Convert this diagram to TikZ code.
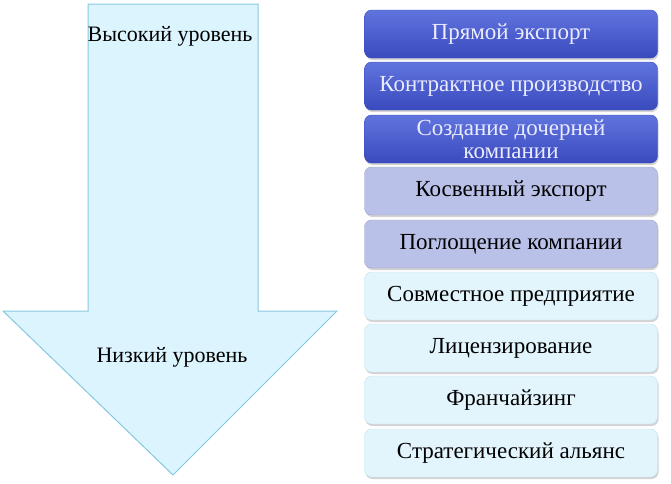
\documentclass[tikz,border=0pt]{standalone}
\usepackage{fontspec}
\setmainfont{Liberation Serif}
\usepackage{tikz}
\usetikzlibrary{positioning,calc,shadows}
\usepackage{xcolor}
\definecolor{darktop}{RGB}{96,116,222}
\definecolor{darkbot}{RGB}{58,74,190}
\definecolor{midfill}{RGB}{186,193,232}
\definecolor{lightfill}{RGB}{226,245,252}
\definecolor{lightline}{RGB}{150,205,228}
\definecolor{arrowfill}{RGB}{220,244,253}
\definecolor{arrowline}{RGB}{135,200,225}

\begin{document}
\begin{tikzpicture}[x=1pt,y=-1pt,
    level/.style={rectangle,rounded corners=7pt,minimum width=293pt,minimum height=48pt,align=center,
      font=\fontsize{23}{23}\selectfont,inner xsep=1pt,inner ysep=0pt,
      drop shadow={opacity=0.35,shadow xshift=1pt,shadow yshift=-2pt}},
    high/.style={level,top color=darktop,bottom color=darkbot,draw=darkbot,text=white!92!blue},
    mid/.style={level,fill=midfill,draw=midfill!85!black},
    low/.style={level,fill=lightfill,draw=lightline!60},
    tag/.style={font=\fontsize{22}{22}\selectfont}]

\useasboundingbox (0,0) rectangle (671,483);

% arrow
\draw[fill=arrowfill,draw=arrowline,line width=1pt,line join=miter]
  (88,4) -- (258,4) -- (258,311) -- (337,311) -- (173,475) -- (3,311) -- (88,311) -- cycle;

\node[tag] (hi) at (170,36) {Высокий уровень};
\node[tag] (lo) at (172,357) {Низкий уровень};

% boxes
\node[high] (exp)  at (511,34)  {Прямой экспорт};
\node[high] (cont) at (511,86)  {Контрактное производство};
\node[high,font=\fontsize{23}{23}\selectfont] (sub) at (511,139) {Создание дочерней\\компании};
\node[mid]  (ind)  at (511,191) {Косвенный экспорт};
\node[mid]  (acq)  at (511,244) {Поглощение компании};
\node[low]  (jv)   at (511,296) {Совместное предприятие};
\node[low]  (lic)  at (511,348) {Лицензирование};
\node[low]  (fr)   at (511,400) {Франчайзинг};
\node[low]  (all)  at (511,453) {Стратегический альянс};

\end{tikzpicture}
\end{document}
